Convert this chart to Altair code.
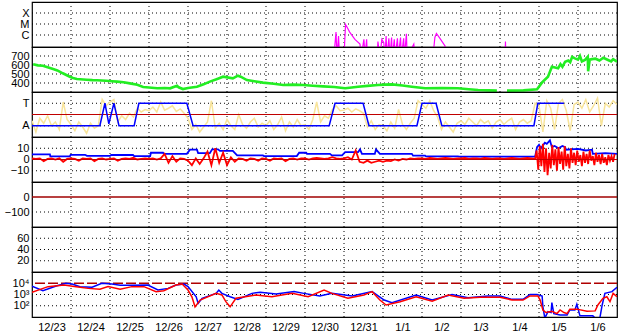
import altair as alt
import pandas as pd

DAY_LABELS = ["12/23", "12/24", "12/25", "12/26", "12/27", "12/28", "12/29", "12/30",
              "12/31", "1/1", "1/2", "1/3", "1/4", "1/5", "1/6"]
DAY_BOUNDS = list(range(1, 15))

# ---------------- X-ray flux (W/m^2); 1e-8 = below plot floor
xray_t = [7.74, 7.795, 7.82, 7.86, 7.885, 7.999, 8.04, 8.08, 8.15, 8.28, 8.41, 8.44, 8.51, 8.54,
          8.58, 8.60, 8.85, 8.87, 8.92, 8.97, 9.02, 9.05, 9.08, 9.10, 9.15, 9.18, 9.22, 9.24,
          9.29, 9.31, 9.37, 9.39, 9.45, 9.47, 9.53, 9.55, 9.60, 9.62, 9.79, 9.82,
          10.28, 10.33, 10.37, 10.46, 10.59, 10.62, 12.13, 12.14, 12.15]
xray_v = [1e-8, 1.9e-6, 1e-8, 8e-7, 1e-8, 1e-8, 9e-6, 5e-6, 1.7e-6, 4e-7, 1.5e-7, 1e-8, 4e-7, 1e-8,
          4e-7, 1e-8, 1e-8, 2.5e-7, 1e-8, 4e-7, 2e-7, 1e-8, 8e-7, 1e-8, 5e-7, 1e-8, 6e-7, 1e-8,
          4e-7, 1e-8, 5e-7, 1e-8, 6e-7, 1e-8, 5e-7, 1e-8, 1.3e-6, 1e-8, 1.5e-7, 1e-8,
          1e-8, 6e-7, 1.4e-6, 5e-7, 1e-7, 1e-8, 1e-8, 2.5e-7, 1e-8]

# ---------------- Solar wind speed (km/s)
speed_t = [0.03, 0.15, 0.28, 0.40, 0.54, 0.65, 0.79, 0.97, 1.05, 1.15, 1.40, 1.55, 1.67, 1.90,
           2.05, 2.18, 2.35, 2.51, 2.70, 2.85, 3.0, 3.21, 3.40, 3.54, 3.72, 3.76, 3.87, 4.0,
           4.23, 4.40, 4.56, 4.75, 4.90, 5.15, 5.28, 5.35, 5.51, 5.70, 5.92, 6.2, 6.44, 6.7,
           6.95, 7.2, 7.46, 7.75, 8.03, 8.2, 8.36, 8.6, 8.87, 9.05, 9.23, 9.5, 9.74, 10.08,
           10.5, 10.92, 11.2, 11.44, 11.7, 11.92, 12.0, 12.18, 12.6, 12.95, 13.08, 13.23,
           13.33, 13.49, 13.55, 13.60, 13.67, 13.75, 13.80, 13.85, 13.92, 14.00, 14.05, 14.10,
           14.18, 14.25, 14.26, 14.30, 14.36, 14.45, 14.55, 14.65, 14.77, 14.85, 14.90, 15.0]
speed_v = [608, 596, 592, 575, 556, 540, 508, 470, 455, 444, 436, 432, 430, 425,
           420, 415, 408, 396, 380, 356, 350, 341, 345, 341, 370, 352, 333, 345,
           359, 385, 415, 445, 470, 452, 481, 470, 433, 420, 404, 392, 378, 382,
           378, 370, 363, 355, 341, 350, 359, 368, 378, 382, 385, 372, 359, 341,
           345, 341, 330, 322, 318, 315, None, 315, 318, 330, 407, 470,
           581, 563, 610, 580, 637, 650, 630, 690, 674, 660, 700, 640,
           656, 690, 530, 660, 665, 670, 650, 680, 656, 640, 665, 637]

# ---------------- IMF sector: phi angle (deg), 0.1-day samples from t=0
phi_v = [130, 40, 150, 110, 170, 90, 120, 60, 280, 140,
         100, 50, 120, 80, 30, 110, 70, 90, 300, 250,
         280, 300, 120, 170, 140, 190, 160, 230, 200, 220,
         210, 240, 200, 280, 215, 230, 250, 205, 225, 190,
         150, 60, 100, 40, 80, 120, 290, 70, 110, 60,
         140, 90, 60, 180, 100, 70, 120, 150, 80, 110,
         90, 130, 60, 100, 160, 50, 120, 80, 140, 90,
         100, 60, 140, 280, 120, 170, 150, 220, 250, 210,
         215, 230, 200, 225, 210, 190, 80, 130, 60, 100,
         90, 50, 120, 70, 220, 100, 60, 110, 150, 290,
         260, 230, 290, 210, 160, 60, 120, 80, 40, 110,
         130, 100, 150, 120, 90, 140, 110, 130, 70, 120,
         140, 100, 130, 150, 60, 120, 140, 110, 130, 270,
         250, 40, 290, 230, 60, 270, 300, 210, 50, 260,
         280, 230, 300, 200, 250, 310, 90, 270, 240, 290, 260]
sector_t = [0, 1.74, 1.87, 1.97, 2.10, 2.23, 2.62, 2.74, 3.97, 4.13, 7.62, 7.77, 8.49, 8.64,
            9.87, 10.0, 10.36, 10.51, 12.87, 12.97, 13.64]
sector_v = [90, 90, 270, 105, 270, 90, 90, 270, 270, 90, 90, 270, 270, 90,
            90, 270, 270, 90, 90, 270, 270]

# ---------------- IMF Bt (blue) and Bz (red), nT
bt_t = [0.0, 0.46, 0.47, 0.97, 0.99, 1.36, 1.41, 2.0, 2.03, 2.59, 2.62, 3.03, 3.05, 3.36, 3.38,
        3.97, 4.05, 4.23, 4.26, 4.56, 4.62, 4.77, 4.82, 5.15, 5.26, 5.92, 5.95, 6.79, 6.85,
        7.03, 7.05, 7.64, 7.69, 7.95, 8.03, 8.36, 8.41, 8.46, 8.79, 8.82, 8.92, 9.74, 9.77,
        10.08, 10.10, 10.92, 10.95, 12.9, 12.95, 13.0, 13.05, 13.15, 13.2, 13.28, 13.33,
        13.4, 13.5, 13.6, 13.67, 13.69, 14.0, 14.2, 14.36, 14.38, 14.7, 15.0]
bt_v = [4.6, 4.6, 2.8, 2.8, 4.2, 4.2, 3.2, 3.2, 4.0, 4.0, 3.0, 3.0, 6.0, 6.0, 5.0,
        5.0, 8.7, 8.7, 5.6, 5.6, 9.0, 9.0, 7.6, 7.6, 3.6, 3.6, 3.0, 3.0, 6.0,
        6.0, 5.0, 5.0, 3.6, 3.6, 6.5, 6.5, 9.0, 5.0, 5.0, 9.0, 5.0, 5.0, 3.4,
        3.4, 2.8, 2.8, 2.5, 2.5, 11, 13, 10, 15, 14, 17, 11,
        12, 10, 12, 11, 8.7, 9.5, 8.0, 8.7, 5.0, 5.6, 5.0]
# quiet part: 0.1-day samples from t=0 to 12.9
bz_quiet = [1, 0.5, 1, -1.5, 0.5, 1, 0, 1, -2, 0.5,
            1, 0.5, -1, 1, 0.5, 1, -1.5, 0.5, 1, 0,
            0.5, 1, -1, 0.5, 1, 0.5, 1.5, 0, 0.5, 1,
            0.5, 1, 0, 1, 5, -3, 3, -2, 1, 0.5,
            -1, -5, 1, -4, 1, 7, -5, 10, -3, 6,
            -5, 2, -2, 1, 0.5, -1, 1, 0.5, -1, 1,
            0.5, -1, 1, 0.5, 1, -1.5, 0.5, 1, 0, 1,
            1, 0, 1, 1.5, 1, 0.5, 1, 2, 1, 0.5,
            1, 2, 0, 8, -2, -3, -1, -3, -2, -1,
            -2, -1, -1.5, 0, -1, 0.5, 0, 1, 0.5, 1,
            1, 0.5, 1.5, 1, 0.5, 1, 1.5, 1, 0.5, 1,
            1, 1.5, 0.5, 1, 1, 0.5, 1.5, 1, 0.5, 1,
            1, 0.5, 1, 1.5, 1, 0.5, 1, 1.5, 1, 0.5]
# disturbed part: 0.04-day samples from t=12.94
bz_storm = [8, -9, 12, -6, 14, -11, 10, -14, 6, -8, 13, -5, 9, -10, 11, -4, 7, -9, 12, -6,
            5, -8, 10, -3, 6, -5, 8, -2, 4, -6, 7, -3, 5, -4, 8, -1, 3, -5, 6, -2,
            4, -4, 5, -3, 2, -5, 4, -1, 3, -2, 5]

# ---------------- Particle flux (blue / red)
flux_b_t = [0, 0.28, 0.62, 0.87, 1.03, 1.23, 1.54, 1.79, 2.05, 2.26, 2.56, 2.97, 3.23, 3.49,
            3.69, 3.90, 4.0, 4.21, 4.26, 4.36, 4.72, 4.79, 4.87, 5.08, 5.28, 5.64, 5.85, 6.26,
            6.72, 6.97, 7.38, 7.69, 8.21, 8.72, 9.03, 9.23, 9.85, 10.26, 10.77, 11.18, 11.69,
            12.0, 12.31, 12.59, 12.77, 12.95, 13.08, 13.10, 13.15, 13.23, 13.31, 13.33, 13.38,
            13.54, 13.72, 13.79, 13.92, 13.97, 14.05, 14.38, 14.44, 14.56, 14.62, 14.69, 14.87, 15.0]
flux_b_v = [5600, 2200, 5750, 10000, 8500, 5000, 4400, 10000, 8500, 6600, 6600, 6900, 2500, 3500,
            6900, 8500, 5000, 630, 160, 460, 1260, 2500, 1260, 630, 370, 1260, 1600, 1100,
            1800, 1260, 740, 1260, 740, 1800, 320, 190, 910, 320, 1000, 520, 740,
            740, 370, 370, 1000, 1000, 740, 80, 8, 30, 25, 190, 20,
            15, 15, 42, 42, 135, 12.6, 12.6, 8, 8, 117, 1260, 1800, 4400]
flux_r_t = [0, 0.41, 0.82, 1.13, 1.44, 1.74, 1.95, 2.26, 2.56, 2.87, 3.18, 3.38, 3.69, 3.85,
            4.0, 4.10, 4.18, 4.31, 4.72, 4.87, 4.97, 5.08, 5.23, 5.74, 6.15, 6.67, 7.08, 7.49,
            7.69, 8.10, 8.51, 8.72, 8.92, 9.08, 9.44, 9.85, 10.26, 10.67, 11.08, 11.49, 12.0,
            12.31, 12.59, 12.77, 12.97, 13.03, 13.10, 13.18, 13.33, 13.46, 13.54, 13.64, 13.72,
            13.79, 13.97, 14.23, 14.44, 14.51, 14.64, 14.74, 14.82, 14.90, 15.0]
flux_r_v = [1600, 5000, 6900, 5000, 3500, 2900, 5000, 2900, 5000, 5000, 1800, 2200, 6900, 8500,
            2500, 630, 80, 320, 1260, 910, 230, 80, 460, 910, 630, 1260, 630, 2500,
            1260, 460, 910, 1800, 320, 117, 230, 630, 250, 910, 460, 560, 560,
            320, 320, 740, 740, 320, 42, 25, 32, 20, 42, 25, 20,
            50, 50, 32, 35, 117, 460, 630, 230, 1260, 630]

# ---------------- build tables
xray = pd.DataFrame({"t": xray_t, "v": xray_v})
speed = pd.DataFrame({"t": speed_t, "v": speed_v})
phi = pd.DataFrame({"t": [i * 0.1 for i in range(len(phi_v))], "v": phi_v})
sector = pd.DataFrame({"t": sector_t, "v": sector_v})
bt = pd.DataFrame({"t": bt_t, "v": bt_v})
bz = pd.DataFrame({"t": [i * 0.1 for i in range(len(bz_quiet))] +
                        [12.94 + i * 0.04 for i in range(len(bz_storm))],
                   "v": bz_quiet + bz_storm})
flux_b = pd.DataFrame({"t": flux_b_t, "v": flux_b_v})
flux_r = pd.DataFrame({"t": flux_r_t, "v": flux_r_v})
vgrid = pd.DataFrame({"t": DAY_BOUNDS})

FONT = "Liberation Sans"
W, H = 585, 45
label_arr = "[" + ",".join("'%s'" % d for d in DAY_LABELS) + "]"
XS = alt.Scale(domain=[0, 15], nice=False, zero=False)
DOT = [1, 3]

XAX_NONE = alt.Axis(labels=False, ticks=False, domain=False, grid=False, title=None,
                    values=[0], tickSize=0, labelPadding=0)
XAX_LAB = alt.Axis(values=list(range(0, 15)), grid=False, domain=False, ticks=False,
                   tickSize=0, title=None, labelExpr=label_arr + "[datum.value]",
                   labelOffset=19.5, labelFlush=False, labelFontSize=11, labelFont=FONT,
                   labelColor="black", labelPadding=4, labelOverlap=False, labelBound=False)


def yaxis(values, expr=None):
    kw = dict(values=values, grid=False, domain=False, ticks=False, tickSize=0, title=None,
              labelFontSize=11, labelFont=FONT, labelColor="black", labelPadding=3,
              labelFlush=False, labelOverlap=False, labelBound=False)
    if expr:
        kw["labelExpr"] = expr
    return alt.Axis(**kw)


def panel(yscale, yax, gridvals, layers, xax=XAX_NONE):
    """layers: list of (kind, df, color, width, extra)"""
    charts = []
    X = lambda: alt.X("t:Q", scale=XS, axis=xax)
    Y = lambda: alt.Y("v:Q", scale=yscale, axis=yax)
    charts.append(alt.Chart(vgrid).mark_rule(color="black", strokeDash=DOT, strokeWidth=1)
                  .encode(x=X()))
    charts.append(alt.Chart(pd.DataFrame({"v": gridvals})).mark_rule(
        color="black", strokeDash=DOT, strokeWidth=1).encode(y=Y()))
    for kind, df, color, width, extra in layers:
        if kind == "line":
            charts.append(alt.Chart(df).mark_line(color=color, strokeWidth=width, clip=True,
                                                  **extra).encode(x=X(), y=Y()))
        else:
            charts.append(alt.Chart(df).mark_rule(color=color, strokeWidth=width,
                                                  **extra).encode(y=Y()))
    return alt.layer(*charts).properties(width=W, height=H)


s1 = alt.Scale(type="log", domain=[10 ** -7.09, 1e-3], nice=False)
p1 = panel(s1, yaxis([1e-4, 1e-5, 1e-6],
                     "datum.value > 5e-5 ? 'X' : datum.value > 5e-6 ? 'M' : 'C'"),
           [1e-4, 1e-5, 1e-6],
           [("line", xray, "#ff00ff", 1.2, {})])

s2 = alt.Scale(domain=[300, 800], nice=False, zero=False)
p2 = panel(s2, yaxis([400, 500, 600, 700]), [400, 500, 600, 700],
           [("line", speed, "#22ee22", 2.6, {})])

s3 = alt.Scale(domain=[0, 360], nice=False, zero=False)
p3 = panel(s3, yaxis([90, 270], "datum.value > 180 ? 'T' : 'A'"), [90, 270],
           [("line", phi, "#f8e49a", 1.5, {}),
            ("rule", pd.DataFrame({"v": [180]}), "#c00000", 1.2, {}),
            ("line", sector, "#0000ff", 1.5, {})])

s4 = alt.Scale(domain=[-20, 20], nice=False, zero=False)
p4 = panel(s4, yaxis([-10, 0, 10]), [-10, 10],
           [("line", bt, "#0000ff", 1.8, {}),
            ("line", bz, "#ff0000", 1.8, {}),
            ("rule", pd.DataFrame({"v": [0]}), "#c00000", 1.0, {})])

s5 = alt.Scale(domain=[-200, 100], nice=False, zero=False)
p5 = panel(s5, yaxis([-100, 0]), [-100],
           [("rule", pd.DataFrame({"v": [0]}), "#a00000", 1.5, {})])

s6 = alt.Scale(domain=[0, 80], nice=False, zero=False)
p6 = panel(s6, yaxis([20, 40, 60]), [20, 40, 60], [])

s7 = alt.Scale(type="log", domain=[10, 1e5], nice=False)
p7 = panel(s7, yaxis([100, 1000, 10000],
                     "datum.value > 5000 ? '10⁴' : datum.value > 500 ? '10³' : '10²'"),
           [100, 1000],
           [("rule", pd.DataFrame({"v": [10000]}), "#b00000", 1.5, {"strokeDash": [10, 3]}),
            ("line", flux_b, "#0000ff", 1.5, {}),
            ("line", flux_r, "#ff0000", 1.5, {})],
           xax=XAX_LAB)

chart = alt.vconcat(p1, p2, p3, p4, p5, p6, p7, spacing=0, bounds="flush").properties(
    padding={"left": 3, "top": 0, "right": 5, "bottom": 2},
    background="white",
).configure_view(stroke="black", strokeWidth=1.2)

chart.save("out.html", embed_options={"renderer": "svg", "actions": False})
